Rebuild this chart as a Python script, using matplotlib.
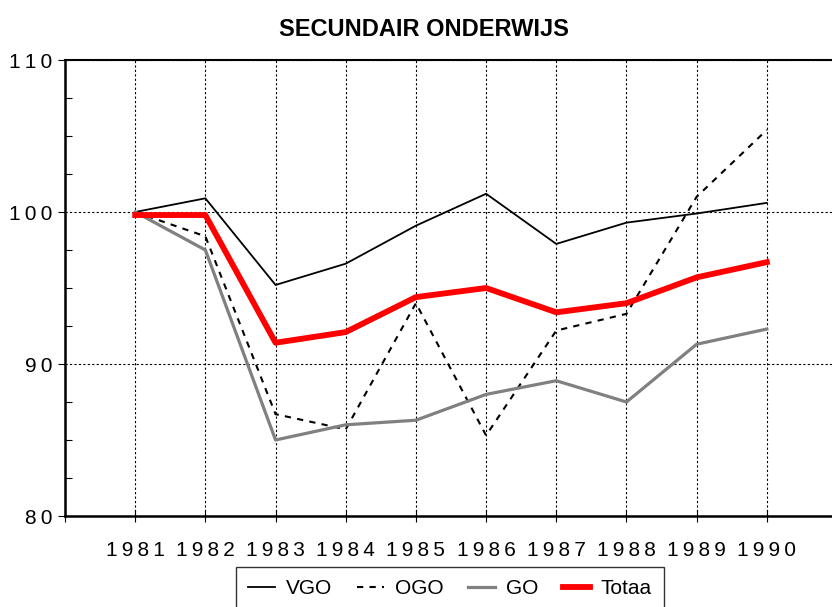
import numpy as np
import matplotlib
matplotlib.use('Agg')
import matplotlib.pyplot as plt
from matplotlib.ticker import MultipleLocator

# data (index, 1981 = 100)
years = [1981, 1982, 1983, 1984, 1985, 1986, 1987, 1988, 1989, 1990]
vgo = [100.0, 100.9, 95.2, 96.6, 99.1, 101.2, 97.9, 99.3, 99.9, 100.6]
ogo = [100.0, 98.4, 86.7, 85.7, 94.0, 85.3, 92.2, 93.3, 101.0, 105.4]
go = [100.0, 97.5, 85.0, 86.0, 86.3, 88.0, 88.9, 87.5, 91.3, 92.3]
totaal = [99.8, 99.8, 91.4, 92.1, 94.4, 95.0, 93.4, 94.0, 95.7, 96.7]
labels = ['VGO', 'OGO', 'GO', 'Totaa']
yticks = [80, 90, 100, 110]


def spaced(v):
    # the original tick labels are letter-spaced
    return '\u2009'.join(str(v))


plt.rcParams['font.family'] = ['Liberation Sans', 'DejaVu Sans']

fig = plt.figure(figsize=(8.32, 6.07), dpi=100)
ax = fig.add_axes([65 / 832, 1 - 516 / 607, 772 / 832, 456 / 607])

ax.plot(years, vgo, color='black', lw=1.3, label=labels[0])
ax.plot(years, ogo, color='black', lw=1.5, dashes=(3, 3), label=labels[1])
ax.plot(years, go, color='#808080', lw=2.3, label=labels[2])
ax.plot(years, totaal, color='#ff0000', lw=4.2, label=labels[3])

ax.set_xlim(1980, 1991)
ax.set_ylim(80, 110)
ax.set_xticks(range(1980, 1991))
ax.set_xticklabels([''] + [spaced(y) for y in years])
ax.set_yticks(yticks)
ax.set_yticklabels([spaced(v) for v in yticks])
ax.yaxis.set_minor_locator(MultipleLocator(2.5))

ax.grid(True, which='major', color='black', lw=0.8, linestyle=(0, (2, 2)))
ax.spines['right'].set_visible(False)
ax.spines['left'].set_linewidth(1.8)
ax.spines['bottom'].set_linewidth(1.8)
ax.spines['top'].set_linewidth(1.5)

ax.tick_params(axis='x', direction='inout', length=8, width=0.8, pad=14, labelsize=15)
ax.tick_params(axis='y', which='major', direction='out', length=5, width=0.8, pad=4, labelsize=15)
ax.tick_params(axis='y', which='minor', direction='in', length=5, width=0.8)

fig.text(424 / 832, 1 - 30 / 607, 'SECUNDAIR ONDERWIJS', ha='center', va='center',
         fontsize=17, fontweight='bold')

leg = fig.legend(loc='upper center', bbox_to_anchor=(450 / 832, 1 - 567 / 607), ncol=4,
                 frameon=True, fancybox=False, edgecolor='black', fontsize=15,
                 handlelength=1.3, handletextpad=0.5, columnspacing=1.2,
                 borderpad=0.6, borderaxespad=0)
leg.get_frame().set_linewidth(1.0)

fig.savefig('out.png', dpi=100)
